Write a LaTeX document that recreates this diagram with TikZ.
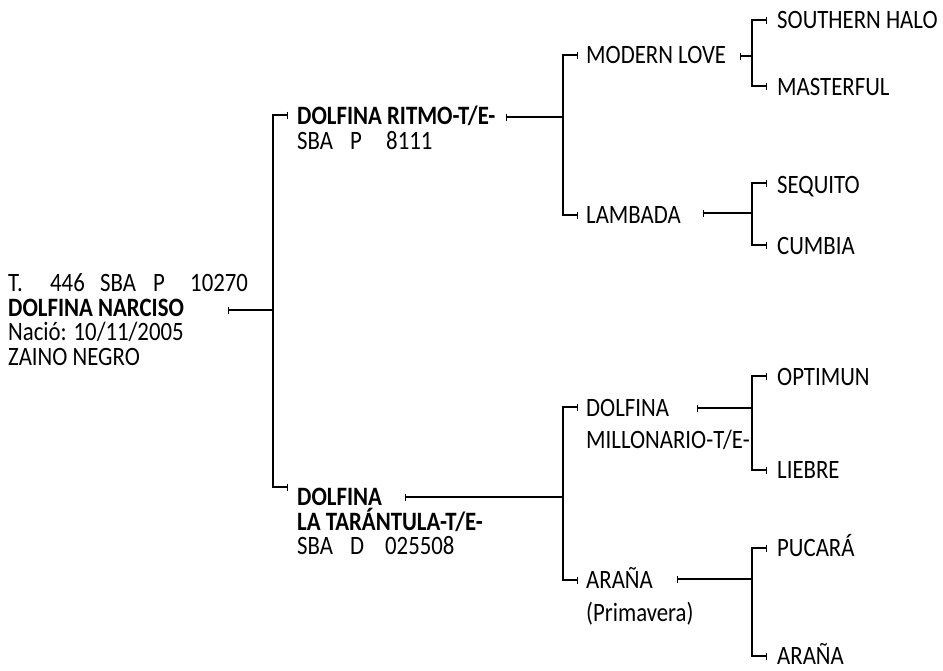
\documentclass[tikz,border=0pt]{standalone}
\usepackage{fontspec}
\setmainfont[FakeStretch=0.86]{Carlito}
\usetikzlibrary{arrows.meta}
\newcommand{\fsz}{\fontsize{26.5}{28}\selectfont}
\tikzset{
  lbl/.style={anchor=base west, inner sep=0pt, font=\fsz},
  nm/.style={lbl, font=\fsz\bfseries},
  conn/.style={line width=1.2pt, line join=miter},
  barboth/.style={conn, {Bar[width=7pt,line width=1.1pt]}-{Bar[width=7pt,line width=1.1pt]}},
  barstart/.style={conn, {Bar[width=7pt,line width=1.1pt]}-},
}
\begin{document}
\begin{tikzpicture}[x=1pt,y=-1pt]
\useasboundingbox[fill=white] (0,0) rectangle (943,670);

% generation 0
\node[lbl] (n0a) at (8,291) {\makebox[42pt][l]{T.}\makebox[50pt][l]{446}\makebox[53pt][l]{SBA}\makebox[37pt][l]{P}10270};
\node[nm]  (n0)  at (8,316) {DOLFINA NARCISO};
\node[lbl] (n0c) at (8,340) {Nació: 10/11/2005};
\node[lbl] (n0d) at (8,365) {ZAINO NEGRO};

% generation 1
\node[nm]  (s)   at (297,124) {DOLFINA RITMO-T/E-};
\node[lbl] (sb)  at (297,149) {\makebox[53pt][l]{SBA}\makebox[36pt][l]{P}8111};
\node[nm]  (d)   at (297,505) {DOLFINA};
\node[nm]  (d2)  at (297,530) {LA TARÁNTULA-T/E-};
\node[lbl] (db)  at (297,554) {\makebox[53pt][l]{SBA}\makebox[35pt][l]{D}025508};

% generation 2
\node[lbl] (ss)  at (586,63)  {MODERN LOVE};
\node[lbl] (sd)  at (586,223) {LAMBADA};
\node[lbl] (ds)  at (586,416) {DOLFINA};
\node[lbl] (ds2) at (586,448) {MILLONARIO-T/E-};
\node[lbl] (dd)  at (586,588) {ARAÑA};
\node[lbl] (dd2) at (586,621) {(Primavera)};

% generation 3
\node[lbl] (sss) at (777,28)  {SOUTHERN HALO};
\node[lbl] (ssd) at (777,95)  {MASTERFUL};
\node[lbl] (sds) at (777,193) {SEQUITO};
\node[lbl] (sdd) at (777,254) {CUMBIA};
\node[lbl] (dss) at (777,385) {OPTIMUN};
\node[lbl] (dsd) at (777,478) {LIEBRE};
\node[lbl] (dds) at (777,556) {PUCARÁ};
\node[lbl] (ddd) at (777,664) {ARAÑA};

% connector points
\coordinate (t0)  at (228,310);
\coordinate (f0)  at (273,310);
\coordinate (bs)  at (288,115);
\coordinate (bd)  at (288,487);
\coordinate (ts)  at (506,117);
\coordinate (td)  at (405,497);
\coordinate (fs)  at (563,117);
\coordinate (fd)  at (563,497);
\coordinate (bss) at (578,55);
\coordinate (bsd) at (578,215);
\coordinate (bds) at (578,407);
\coordinate (bdd) at (578,580);
\coordinate (tss) at (740,56);
\coordinate (tsd) at (703,213);
\coordinate (tds) at (697,408);
\coordinate (tdd) at (677,579);
\coordinate (fss) at (752,56);
\coordinate (fsd) at (752,213);
\coordinate (fds) at (752,408);
\coordinate (fdd) at (752,579);
\coordinate (bsss) at (767,20);
\coordinate (bssd) at (767,86);
\coordinate (bsds) at (767,183);
\coordinate (bsdd) at (767,245);
\coordinate (bdss) at (767,376);
\coordinate (bdsd) at (767,470);
\coordinate (bdds) at (767,548);
\coordinate (bddd) at (767,656);

% connectors
\draw[barstart] (t0) -- (f0);
\draw[barboth] (bs) -| (f0) |- (bd);
\draw[barstart] (ts) -- (fs);
\draw[barstart] (td) -- (fd);
\draw[barboth] (bss) -| (fs) |- (bsd);
\draw[barboth] (bds) -| (fd) |- (bdd);
\draw[barstart] (tss) -- (fss);
\draw[barstart] (tsd) -- (fsd);
\draw[barstart] (tds) -- (fds);
\draw[barstart] (tdd) -- (fdd);
\draw[barboth] (bsss) -| (fss) |- (bssd);
\draw[barboth] (bsds) -| (fsd) |- (bsdd);
\draw[barboth] (bdss) -| (fds) |- (bdsd);
\draw[barboth] (bdds) -| (fdd) |- (bddd);
\end{tikzpicture}
\end{document}
